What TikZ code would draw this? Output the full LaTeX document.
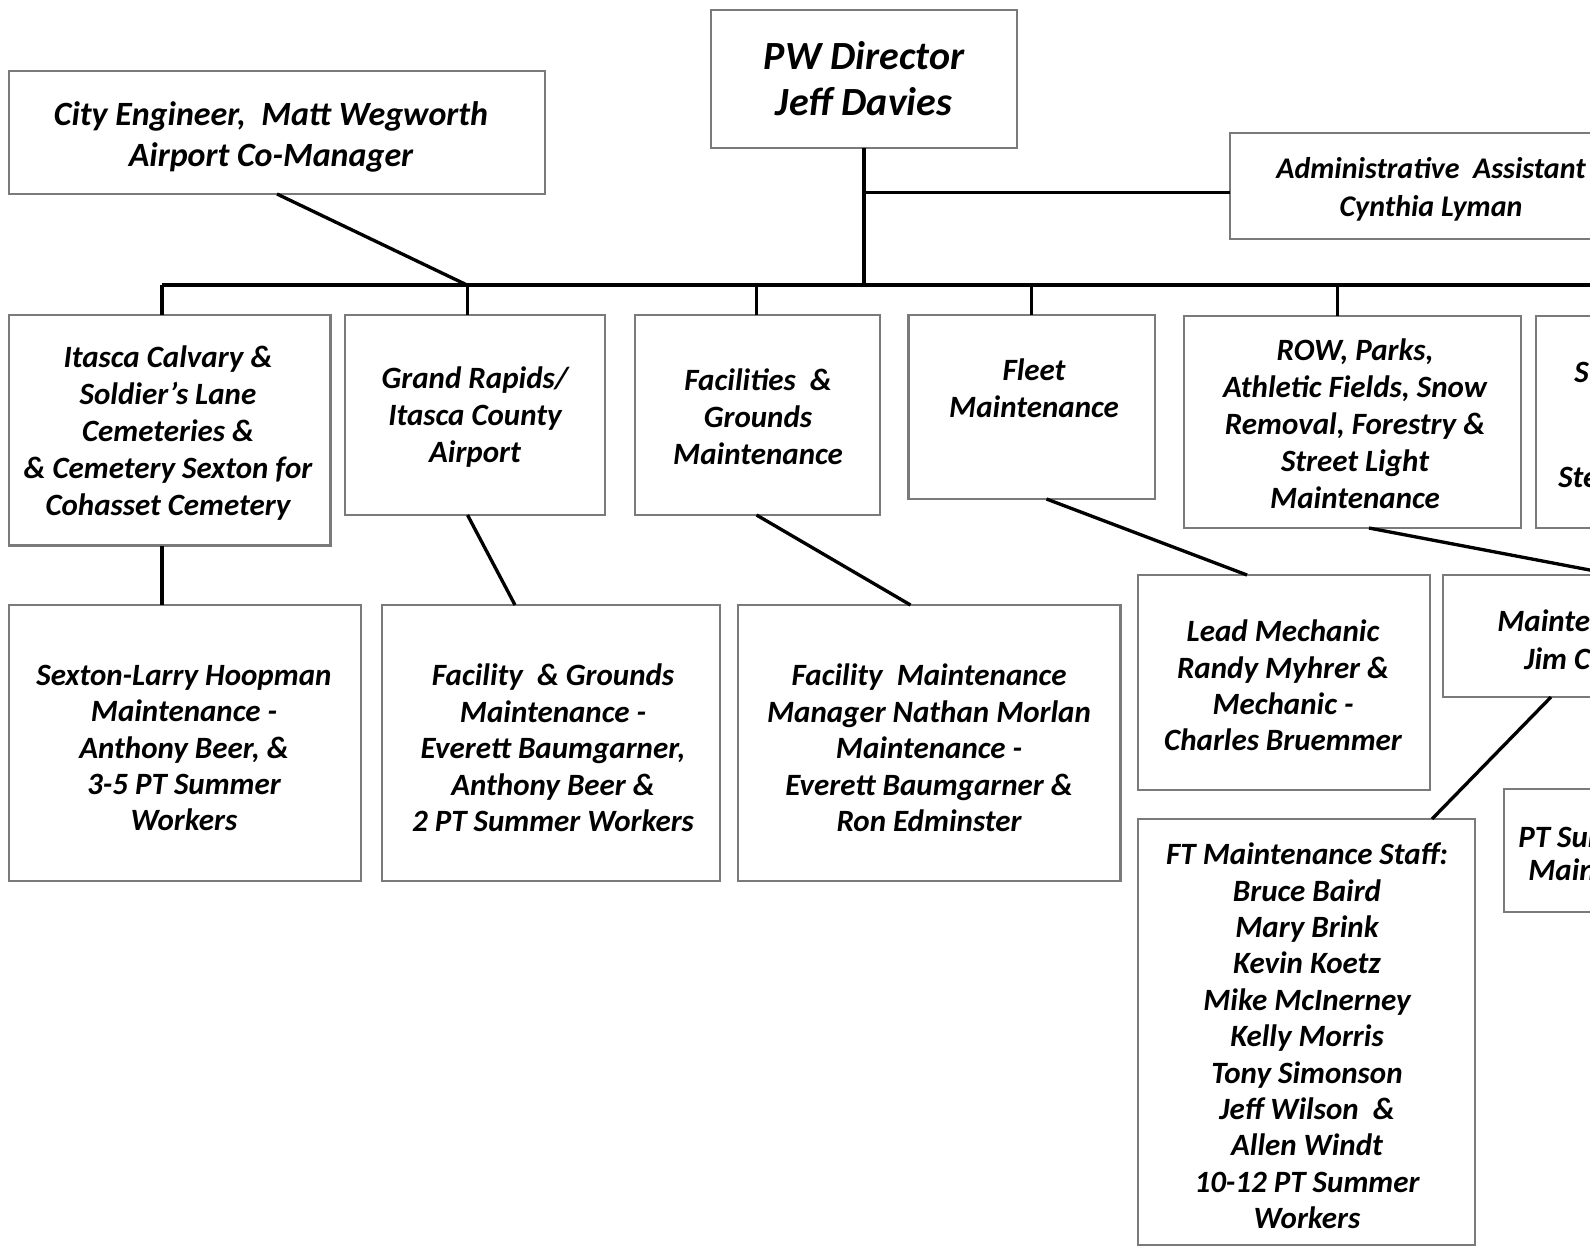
\documentclass[tikz,border=0pt]{standalone}
\usepackage{fontspec}
\setmainfont{Carlito}
\usetikzlibrary{calc}
\begin{document}
\begin{tikzpicture}[x=0.75pt,y=-0.75pt,
  box/.style={draw=black!52, line width=2.1pt, inner sep=0pt, outer sep=0pt, fill=white},
  conn/.style={line width=2.5pt, black},
  txt/.style={align=center, inner sep=0pt, font=\fontsize{23.25pt}{27.7pt}\selectfont\bfseries\itshape},
  txtb/.style={align=center, inner sep=0pt, font=\fontsize{23.25pt}{27.3pt}\selectfont\bfseries\itshape},
  txtpw/.style={align=center, inner sep=0pt, font=\fontsize{30pt}{34.5pt}\selectfont\bfseries\itshape},
  txtcity/.style={align=center, inner sep=0pt, font=\fontsize{25.5pt}{31.2pt}\selectfont\bfseries\itshape},
  txtadm/.style={align=center, inner sep=0pt, font=\fontsize{22.5pt}{28.5pt}\selectfont\bfseries\itshape},
]
\useasboundingbox (0,0) rectangle (1590,1247);
\clip (0,0) rectangle (1590,1247);

% boxes
\node[box, minimum width=229.5pt, minimum height=103.5pt] (pw) at (864,79) {};
\node[box, minimum width=402pt, minimum height=92.25pt] (city) at (277,132.5) {};
\node[box, minimum width=301.5pt, minimum height=79.5pt] (admin) at (1431,186) {};
\node[box, minimum width=241.1pt, minimum height=172.9pt] (itasca) at (169.75,430.25) {};
\node[box, minimum width=195pt, minimum height=150pt] (grand) at (475,415) {};
\node[box, minimum width=183.75pt, minimum height=150pt] (fac) at (757.5,415) {};
\node[box, minimum width=184.9pt, minimum height=138pt] (fleet) at (1031.75,407) {};
\node[box, minimum width=252.75pt, minimum height=159pt] (row) at (1352.5,422) {};
\node[box, minimum width=252.75pt, minimum height=159pt] (sbox) at (1704.5,422) {};
\node[box, minimum width=264pt, minimum height=207pt] (sexton) at (185,743) {};
\node[box, minimum width=253.5pt, minimum height=207pt] (fgm) at (551,743) {};
\node[box, minimum width=286.9pt, minimum height=207pt] (fmm) at (929.25,743) {};
\node[box, minimum width=219pt, minimum height=161.25pt] (lead) at (1284,682.5) {};
\node[box, minimum width=259.5pt, minimum height=91.5pt] (mnt) at (1616,636) {};
\node[box, minimum width=252.75pt, minimum height=319.5pt] (ft) at (1306.5,1032) {};
\node[box, minimum width=225pt, minimum height=92.25pt] (pts) at (1654,850.5) {};

% texts
\node[txtpw] (pwT) at (864,79) {PW Director\\Jeff Davies};
\node[txtcity] (cityT) at (271,137) {City Engineer,\ \ Matt Wegworth\\Airport Co-Manager};
\node[txtadm] (adminT) at (1431,189) {Administrative\ \ Assistant\\Cynthia Lyman};
\node[txt] (itascaT) at (168,433) {Itasca Calvary \&\\Soldier’s Lane\\Cemeteries \&\\\& Cemetery Sexton for\\Cohasset Cemetery};
\node[txt] (grandT) at (475,417) {Grand Rapids/\\Itasca County\\Airport};
\node[txt] (facT) at (758,417) {Facilities \ \&\\Grounds\\Maintenance};
\node[txt] (fleetT) at (1034,388) {Fleet\\Maintenance};
\node[txt] (rowT) at (1355,424) {ROW, Parks,\\Athletic Fields, Snow\\Removal, Forestry \&\\Street Light\\Maintenance};
\node[txt, anchor=west] (sT1) at (1574,372) {S};
\node[txt, anchor=west] (sT2) at (1558,477) {Ste};
\node[txtb] (sexT) at (184,748) {Sexton-Larry Hoopman\\Maintenance -\\Anthony Beer, \&\\3-5 PT Summer\\Workers};
\node[txtb] (fgmT) at (553,748) {Facility \ \& Grounds\\Maintenance -\\Everett Baumgarner,\\Anthony Beer \&\\2 PT Summer Workers};
\node[txtb] (fmmT) at (929,748) {Facility \ Maintenance\\Manager Nathan Morlan\\Maintenance -\\Everett Baumgarner \&\\Ron Edminster};
\node[txtb] (leadT) at (1283,685.5) {Lead Mechanic\\Randy Myhrer \&\\Mechanic -\\Charles Bruemmer};
\node[txt, anchor=west] (mntT1) at (1497,621) {Mainten};
\node[txt, anchor=west] (mntT2) at (1524,659) {Jim C};
\node[txtb] (ftT) at (1307,1036) {FT Maintenance Staff:\\Bruce Baird\\Mary Brink\\Kevin Koetz\\Mike McInerney\\Kelly Morris\\Tony Simonson\\Jeff Wilson \ \&\\Allen Windt\\10-12 PT Summer\\Workers};
\node[txt, anchor=west] (ptsT1) at (1518,837.5) {PT Sum};
\node[txt, anchor=west] (ptsT2) at (1528,870) {Main};

% connector end points
\coordinate (busL) at (162,285);
\coordinate (busR) at (1600,285);
\coordinate (busCity) at (467,285);
\coordinate (admW) at ($(admin.west)+(0,6.7)$);
\coordinate (itN) at ($(itasca.north)+(-7.75,0)$);
\coordinate (itS) at ($(itasca.south)+(-7.75,0)$);
\coordinate (grN) at ($(grand.north)+(-7.5,0)$);
\coordinate (grS) at ($(grand.south)+(-7.5,0)$);
\coordinate (faN) at ($(fac.north)+(-1,0)$);
\coordinate (faS) at ($(fac.south)+(-1,0)$);
\coordinate (roN) at ($(row.north)+(-14.8,0)$);
\coordinate (roS) at ($(row.south)+(16.5,0)$);
\coordinate (flS) at ($(fleet.south)+(14.75,0)$);
\coordinate (fgN) at ($(fgm.north)+(-36,0)$);
\coordinate (fmN) at ($(fmm.north)+(-18.75,0)$);
\coordinate (leN) at ($(lead.north)+(-37,0)$);
\coordinate (mnS) at ($(mnt.south)+(-65,0)$);
\coordinate (ftN) at ($(ft.north)+(125.5,0)$);

% connectors
\draw[conn] (busL) -- (busR);
\draw[conn] (pw.south) -- (pw.south |- busL);
\draw[conn] (admW) -- (pw.south |- admW);
\draw[conn] (city.south) -- (busCity);
\draw[conn] (itN) -- (itN |- busL);
\draw[conn] (grN) -- (grN |- busL);
\draw[conn] (faN) -- (faN |- busL);
\draw[conn] (fleet.north) -- (fleet.north |- busL);
\draw[conn] (roN) -- (roN |- busL);
\draw[conn] (itS) -- (itS |- sexton.north);
\draw[conn] (grS) -- (fgN);
\draw[conn] (faS) -- (fmN);
\draw[conn] (flS) -- (leN);
\draw[conn] (roS) -- (mnt.north);
\draw[conn] (mnS) -- (ftN);
\end{tikzpicture}
\end{document}
